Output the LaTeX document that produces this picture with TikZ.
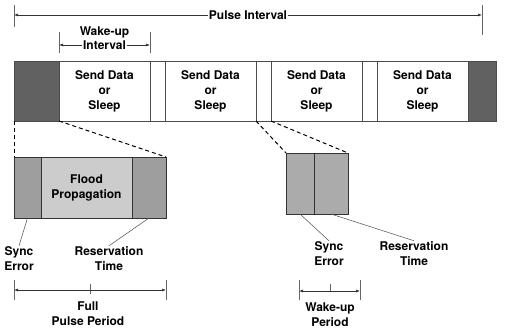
\documentclass[tikz,border=0pt]{standalone}
\usepackage{fontspec}
\setmainfont{TeX Gyre Heros}
\usetikzlibrary{positioning, calc, arrows.meta}

\newcommand{\lblfont}{\fontsize{12}{15}\selectfont\bfseries}

\tikzset{
  blk/.style={draw=black!70, line width=0.5pt, inner sep=0pt, outer sep=0pt, minimum height=60pt},
  dark/.style={blk, fill=black!62, minimum width=#1},
  slot/.style={blk, fill=white, minimum width=91pt, align=center, font=\lblfont},
  gapbox/.style={blk, fill=white, minimum width=15pt},
  sect/.style={draw=black!80, line width=0.5pt, inner sep=0pt, outer sep=0pt, minimum height=61pt, align=center, font=\lblfont},
  lbl/.style={align=center, font=\lblfont, inner sep=1pt},
  zoomline/.style={line width=1pt, dash pattern=on 4pt off 3pt},
  leader/.style={black!70, line width=0.5pt},
  tick/.style={black!60, line width=0.5pt},
  dim/.style={black!80, line width=0.6pt, {Latex[length=4pt,width=3pt]}-{Latex[length=4pt,width=3pt]}}
}

\begin{document}
\begin{tikzpicture}[x=1pt, y=-1pt]
  \useasboundingbox (0,0) rectangle (510,334);

  % Pulse interval
  \coordinate (piL) at (14,15);
  \coordinate (piR) at (482,15);
  \draw[tick] ($(piL)+(0,-10)$) -- ($(piL)+(0,12)$);
  \draw[tick] ($(piR)+(0,-10)$) -- ($(piR)+(0,20)$);
  \draw[dim] (piL) -- (piR);
  \node[lbl, fill=white] (pi) at (248,15) {Pulse Interval};

  % Main bar
  \node[dark=45, anchor=north west] (dkL) at (14,61) {};
  \node[slot, right=0pt of dkL] (s1) {Send Data\\or\\Sleep};
  \node[gapbox, right=0pt of s1] (g1) {};
  \node[slot, right=0pt of g1] (s2) {Send Data\\or\\Sleep};
  \node[gapbox, right=0pt of s2] (g2) {};
  \node[slot, right=0pt of g2] (s3) {Send Data\\or\\Sleep};
  \node[gapbox, right=0pt of s3] (g3) {};
  \node[slot, right=0pt of g3] (s4) {Send Data\\or\\Sleep};
  \node[dark=28, right=0pt of s4] (dkR) {};

  % Wake-up interval
  \coordinate (wiL) at (s1.west |- 0,45);
  \coordinate (wiR) at (s1.east |- 0,45);
  \draw[tick] ($(wiL)+(0,-13)$) -- ($(wiL)+(0,8)$);
  \draw[tick] ($(wiR)+(0,-13)$) -- ($(wiR)+(0,8)$);
  \draw[dim] (wiL) -- (wiR);
  \node[lbl, fill=white] (wi) at ($(wiL)!0.5!(wiR)$) {Interval};
  \node[lbl, above=0pt of wi] (wiTop) {Wake-up};

  % Full pulse period (zoomed)
  \node[sect, fill=black!38, minimum width=27, anchor=north west] (seF) at (14,157) {};
  \node[sect, fill=black!20, minimum width=91, right=0pt of seF] (fp) {Flood\\Propagation};
  \node[sect, fill=black!38, minimum width=34, right=0pt of fp] (rtF) {};
  \draw[zoomline] (dkL.south west) -- (seF.north west);
  \draw[zoomline] (dkL.south east) -- (rtF.north east);

  \node[lbl] (seLblL) at (19,259) {Sync\\Error};
  \node[lbl] (rtLblL) at (109,259) {Reservation\\Time};
  \draw[leader] (seF.south) -- (seLblL.north);
  \draw[leader] (rtF.south) -- (rtLblL.north);

  \coordinate (fpL) at (14,290);
  \coordinate (fpR) at (166,290);
  \draw[tick] ($(fpL)+(0,-10)$) -- ($(fpL)+(0,10)$);
  \draw[tick] ($(fpR)+(0,-10)$) -- ($(fpR)+(0,10)$);
  \draw[tick] (90,284) -- (90,294);
  \draw[dim] (fpL) -- (fpR);
  \node[lbl] (fpLbl) at (88,314) {Full\\Pulse Period};

  % Wake-up period (zoomed)
  \node[sect, fill=black!33, minimum width=28, anchor=north west] (seR) at (286,153) {};
  \node[sect, fill=black!33, minimum width=34, right=0pt of seR] (rtR) {};
  \draw[zoomline] (g2.south west) -- (seR.north west);
  \draw[zoomline] (g2.south east) -- (rtR.north east);

  \node[lbl] (seLblR) at (329,254) {Sync\\Error};
  \node[lbl] (rtLblR) at (414,254) {Reservation\\Time};
  \draw[leader] (seR.south) -- (seLblR.north);
  \draw[leader] (rtR.south) -- (rtLblR.north);

  \coordinate (wpL) at (299,291);
  \coordinate (wpR) at (360,291);
  \draw[tick] ($(wpL)+(0,-11)$) -- ($(wpL)+(0,9)$);
  \draw[tick] ($(wpR)+(0,-11)$) -- ($(wpR)+(0,9)$);
  \draw[tick] (330,284) -- (330,291);
  \draw[dim] (wpL) -- (wpR);
  \node[lbl] (wpLbl) at (330,315) {Wake-up\\Period};
\end{tikzpicture}
\end{document}
